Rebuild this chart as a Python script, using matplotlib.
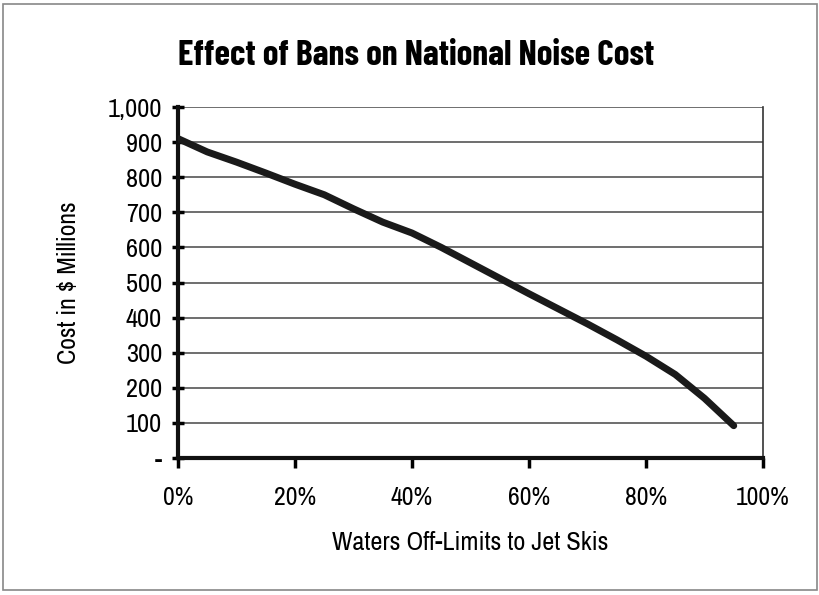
import numpy as np
import matplotlib.pyplot as plt
from matplotlib.patches import Rectangle

# Share of waters off-limits (%) and national noise cost ($ millions)
pct_banned = [0, 5, 10, 15, 20, 25, 30, 35, 40, 45, 50, 55, 60, 65, 70, 75, 80, 85, 90, 95]
cost_millions = [910, 872, 843, 812, 780, 750, 710, 672, 641, 600, 556, 512, 468, 425, 382, 337, 290, 238, 170, 92]

y_ticks = [0, 100, 200, 300, 400, 500, 600, 700, 800, 900, 1000]
y_labels = ['-', '100', '200', '300', '400', '500', '600', '700', '800', '900', '1,000']
x_ticks = [0, 20, 40, 60, 80, 100]
x_labels = ['0%', '20%', '40%', '60%', '80%', '100%']

plt.rcParams['font.family'] = ['Archivo Narrow', 'DejaVu Sans']

fig = plt.figure(figsize=(8.2, 5.95), dpi=100)
ax = fig.add_axes([178 / 820, 1 - 458 / 595, (763 - 178) / 820, (458 - 107) / 595])

ax.plot(pct_banned, cost_millions, color='#1a1a1a', lw=5, solid_capstyle='round', zorder=3)

ax.set_xlim(0, 100)
ax.set_ylim(0, 1000)
ax.set_yticks(y_ticks)
ax.set_yticklabels(y_labels, fontsize=19)
ax.set_xticks(x_ticks)
ax.set_xticklabels(x_labels, fontsize=18.5)
ax.tick_params(axis='y', direction='inout', length=9, width=2.5, pad=7)
ax.tick_params(axis='x', direction='out', length=7, width=2.5, pad=13)
ax.grid(axis='y', color='#555555', lw=1.2)
ax.set_axisbelow(True)

for side in ['left', 'bottom']:
    ax.spines[side].set_linewidth(3)
    ax.spines[side].set_color('#111111')
ax.spines['right'].set_linewidth(1.2)
ax.spines['right'].set_color('#333333')
ax.spines['top'].set_visible(False)

ax.set_xlabel('Waters Off-Limits to Jet Skis', fontsize=19, labelpad=16)
ax.set_ylabel('Cost in $ Millions', fontsize=18.5, labelpad=20)

fig.text(0.507, 1 - 56 / 595, 'Effect of Bans on National Noise Cost',
         ha='center', va='center', fontsize=25.5, fontweight='bold',
         family=['Barlow Condensed', 'DejaVu Sans'])

fig.patches.append(Rectangle((0.004, 0.008), 0.992, 0.985, transform=fig.transFigure,
                             fill=False, edgecolor='#888888', lw=1.2))

fig.savefig('out.png', dpi=100)
